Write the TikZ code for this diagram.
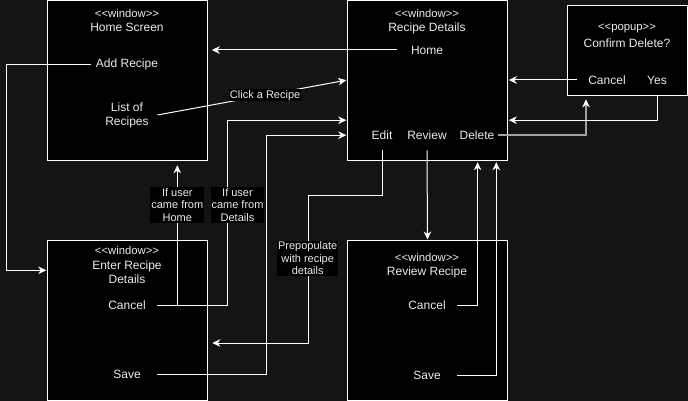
\documentclass[tikz,border=0pt]{standalone}
\usepackage{fontspec}
\setmainfont{Liberation Sans}
\usetikzlibrary{arrows.meta}
\definecolor{bgc}{RGB}{20,20,20}
\definecolor{txtc}{RGB}{235,235,235}
\definecolor{grayline}{RGB}{160,160,160}
\newcommand{\stereotype}[1]{<\kern0pt<#1>\kern0pt>}
\tikzset{
  box/.style={draw=white, fill=black, line width=1pt, minimum width=160pt, minimum height=160pt, inner sep=0pt},
  item/.style={text=txtc, font=\fontsize{12}{14}\selectfont, inner sep=0pt, align=center},
  stereo/.style={text=txtc, font=\fontsize{11.3}{12}\selectfont, inner sep=0pt},
  lbl/.style={fill=black, text=txtc, font=\fontsize{11}{12.7}\selectfont, align=center, inner sep=1pt},
  tipc/.style={-{Stealth[length=8pt,width=7.5pt,inset=2.5pt]}},
  conn/.style={draw=white, line width=1pt, tipc},
  plainc/.style={draw=white, line width=1pt},
}
\begin{document}
\begin{tikzpicture}[x=1pt,y=-1pt]
\useasboundingbox (0,0) rectangle (688,401);
\fill[bgc] (0,0) rectangle (688,401);

% boxes
\node[box] (home) at (127.3,80.2) {};
\node[box] (details) at (427.3,80.2) {};
\node[box, minimum width=120pt, minimum height=90pt] (popup) at (627.5,50.3) {};
\node[box] (enter) at (127.3,320.3) {};
\node[box] (review) at (427.5,320) {};

% Home Screen texts
\node[stereo] (hst) at (127,13) {\stereotype{window}};
\node[item] (htitle) at (127,27.5) {Home Screen};
\node[item] (addr) at (127,64.5) {Add Recipe};
\node[item] (list) at (127,115) {List of\\Recipes};

% Recipe Details texts
\node[stereo] (dst) at (427,13) {\stereotype{window}};
\node[item] (dtitle) at (427,28) {Recipe Details};
\node[item] (homebtn) at (427,50) {Home};
\node[item] (edit) at (382,135) {Edit};
\node[item] (revbtn) at (427,135) {Review};
\node[item] (delbtn) at (477,135) {Delete};

% Popup texts
\node[stereo] (pst) at (627,28.5) {\stereotype{popup}};
\node[item] (ptitle) at (627,43) {Confirm Delete?};
\node[item] (pcancel) at (607,80) {Cancel};
\node[item] (pyes) at (657,80) {Yes};

% Enter Recipe Details texts
\node[stereo] (est) at (127,250.5) {\stereotype{window}};
\node[item] (etitle) at (127,272.5) {Enter Recipe\\Details};
\node[item] (ecancel) at (127,305) {Cancel};
\node[item] (esave) at (127,374.5) {Save};

% Review Recipe texts
\node[stereo] (rst) at (427,257.5) {\stereotype{window}};
\node[item] (rtitle) at (427,272.7) {Review Recipe};
\node[item] (rcancel) at (427,305) {Cancel};
\node[item] (rsave) at (427,375) {Save};

% connectors
\draw[conn] ([xshift=-13.6]homebtn.west) -- ([xshift=4]home.east |- homebtn.west);

\draw[conn] ([xshift=-4.6]addr.west) -| ([xshift=-40,yshift=50]enter.west) -- ([xshift=-0.5,yshift=50]enter.west);

\draw[conn] ([xshift=8.6]list.east) -- ([xshift=-0.5]details.west)
  node[lbl, pos=0.57] (clickl) {Click a Recipe};

\draw[conn] ([yshift=-10.7]edit.south) -- ++(0,45.5) -| ([xshift=100.7,yshift=-22.7]enter.east)
  -- ([xshift=4.5,yshift=-22.7]enter.east);
\node[lbl] (prepl) at (307.7,258.3) {Prepopulate\\with recipe\\details};

\draw[conn] ([yshift=-10.7]revbtn.south) -- (review.north);

\draw[draw=grayline, line width=1.3pt, -{Stealth[length=8pt,width=7.5pt,inset=2.5pt,color=white]}]
  ([xshift=3.4]delbtn.east) -| ([xshift=-41.5,yshift=-3.5]popup.south);

\draw[conn] ([xshift=-11]pcancel.west) -- ([xshift=1]details.east |- pcancel.west);

\draw[conn] (pyes |- popup.south) |- ([xshift=1,yshift=-40]details.east);

\draw[conn] ([xshift=11.6]ecancel.east) -| ([xshift=50,yshift=-4.5]home.south);
\draw[conn] ([xshift=11.6]ecancel.east) -| ([xshift=-119.5,yshift=-40]details.west) -- ([xshift=-0.5,yshift=-40]details.west);
\node[lbl] (fromhome) at (177.3,205) {If user\\came from\\Home};
\node[lbl] (fromdet) at (237.5,205) {If user\\came from\\Details};

\draw[conn] ([xshift=16.6]esave.east) -| ([xshift=-80.3,yshift=-55]details.west) -- ([xshift=-0.5,yshift=-55]details.west);

\draw[conn] ([xshift=11.6]rcancel.east) -| ([xshift=50.3,yshift=-1.5]details.south);
\draw[conn] ([xshift=16.6]rsave.east) -| ([xshift=69,yshift=-1.5]details.south);
\end{tikzpicture}
\end{document}
